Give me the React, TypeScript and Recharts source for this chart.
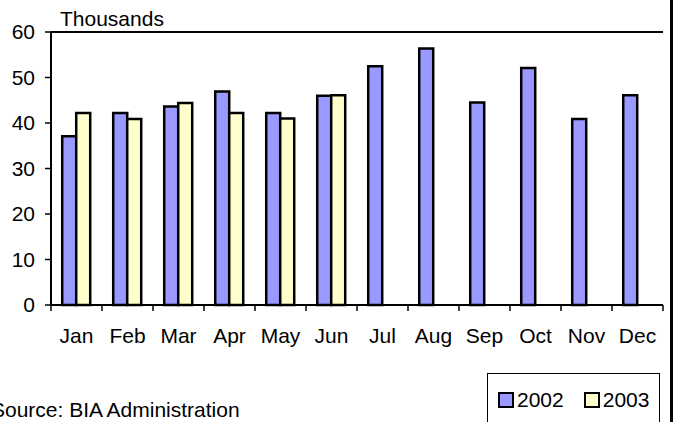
import React from "react";
import {
  Bar,
  BarChart,
  CartesianGrid,
  Legend,
  ReferenceLine,
  XAxis,
  YAxis,
} from "recharts";

const months = ["Jan", "Feb", "Mar", "Apr", "May", "Jun", "Jul", "Aug", "Sep", "Oct", "Nov", "Dec"];
const values2002 = [37.1, 42.2, 43.6, 46.9, 42.2, 46.0, 52.5, 56.4, 44.5, 52.1, 40.9, 46.1];
const values2003 = [42.2, 40.9, 44.4, 42.2, 41.0, 46.1, null, null, null, null, null, null];
const yTicks = [0, 10, 20, 30, 40, 50, 60];
const seriesNames = ["2002", "2003"];

const data = months.map((m, i) => ({
  month: m,
  y2002: values2002[i],
  y2003: values2003[i],
}));

const W = 673;
const H = 422;
const PLOT_LEFT = 51;
const PLOT_RIGHT = 10;
const BAND = (W - PLOT_LEFT - PLOT_RIGHT) / months.length;
const FONT = "'Liberation Sans', Arial, sans-serif";
const FS = 21;

const MonthTick = (props: any) => {
  const { x, y, payload, index } = props;
  const half = BAND / 2;
  return (
    <g>
      <line x1={x - half} x2={x - half} y1={y} y2={y + 6} stroke="#000" strokeWidth={1.5} />
      {index === months.length - 1 && (
        <line x1={x + half} x2={x + half} y1={y} y2={y + 6} stroke="#000" strokeWidth={1.5} />
      )}
      <text x={x} y={y + 38} textAnchor="middle" fontSize={FS} fontFamily={FONT} fill="#000">
        {payload.value}
      </text>
    </g>
  );
};

const LegendBox = () => (
  <div
    style={{
      width: 173,
      height: 60,
      border: "1px solid #000",
      boxSizing: "border-box",
      fontFamily: FONT,
      fontSize: FS,
      display: "flex",
      alignItems: "flex-start",
      paddingTop: 15,
      paddingLeft: 10,
    }}
  >
    {seriesNames.map((name, i) => (
      <div key={name} style={{ display: "flex", alignItems: "center", marginRight: i === 0 ? 20 : 0 }}>
        <span
          style={{
            display: "inline-block",
            width: 12,
            height: 12,
            border: "2px solid #000",
            background: i === 0 ? "#9999FF" : "#FFFFCC",
            marginRight: 3,
          }}
        />
        <span style={{ lineHeight: 1 }}>{name}</span>
      </div>
    ))}
  </div>
);

export default function App() {
  return (
    <div style={{ position: "fixed", left: 0, top: 0, width: W, height: H, background: "#fff", overflow: "hidden" }}>
      <BarChart
        width={W}
        height={H}
        data={data}
        margin={{ top: 32, right: PLOT_RIGHT, left: 0, bottom: 87 }}
        barCategoryGap="22%"
        barGap={0}
      >
        <CartesianGrid vertical={false} stroke="#222" strokeWidth={1} />
        <YAxis
          yAxisId="left"
          width={PLOT_LEFT}
          domain={[0, 60]}
          ticks={yTicks}
          interval={0}
          axisLine={{ stroke: "#000", strokeWidth: 2 }}
          tickLine={{ stroke: "#000", strokeWidth: 1.5 }}
          tickSize={6}
          tickMargin={10}
          tick={{ fontSize: FS, fontFamily: FONT, fill: "#000" }}
          label={{
            content: (p: any) => (
              <text
                x={p.viewBox.x + p.viewBox.width + 9}
                y={p.viewBox.y - 6}
                fontSize={FS}
                fontFamily={FONT}
                fill="#000"
              >
                Thousands
              </text>
            ),
          }}
        />
        <YAxis
          yAxisId="right"
          orientation="right"
          width={0}
          domain={[0, 60]}
          tick={false}
          tickLine={false}
          axisLine={{ stroke: "#444", strokeWidth: 1.5 }}
        />
        <XAxis
          dataKey="month"
          height={30}
          interval={0}
          tickLine={false}
          tickSize={0}
          tickMargin={0}
          axisLine={{ stroke: "#000", strokeWidth: 2 }}
          tick={<MonthTick />}
        />
        <ReferenceLine yAxisId="left" y={60} stroke="#000" strokeWidth={2} />
        <Legend
          layout="horizontal"
          verticalAlign="middle"
          align="center"
          content={() => <LegendBox />}
          wrapperStyle={{ left: 487, top: 373, width: 173, height: 60 }}
        />
        <Bar
          yAxisId="left"
          dataKey="y2002"
          name="2002"
          fill="#9999FF"
          stroke="#000"
          strokeWidth={2.5}
          isAnimationActive={false}
        />
        <Bar
          yAxisId="left"
          dataKey="y2003"
          name="2003"
          fill="#FFFFCC"
          stroke="#000"
          strokeWidth={2.5}
          isAnimationActive={false}
        />
      </BarChart>
      <div
        style={{
          position: "absolute",
          left: -9,
          top: 399,
          fontFamily: FONT,
          fontSize: FS,
          lineHeight: 1,
          color: "#000",
          whiteSpace: "nowrap",
        }}
      >
        Source: BIA Administration
      </div>
      <div style={{ position: "absolute", right: 0, top: 0, width: 3, height: H, background: "#000" }} />
    </div>
  );
}
